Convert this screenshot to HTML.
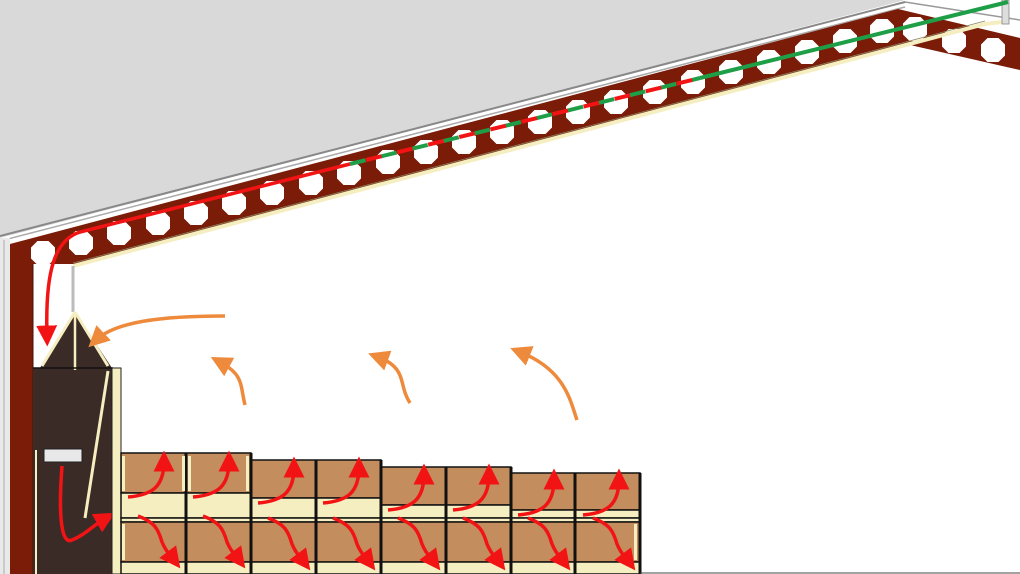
<!DOCTYPE html>
<html><head><meta charset="utf-8"><style>html,body{margin:0;padding:0;background:#fff;width:1020px;height:574px;overflow:hidden}</style></head>
<body>
<svg width="1020" height="574" viewBox="0 0 1020 574" xmlns="http://www.w3.org/2000/svg">
<defs>
<marker id="ar" markerWidth="6" markerHeight="6" refX="3" refY="3" orient="auto" markerUnits="strokeWidth"><path d="M0,0 L6,3 L0,6 z" fill="#f21414"/></marker>
<marker id="ao" markerWidth="6" markerHeight="6" refX="3" refY="3" orient="auto" markerUnits="strokeWidth"><path d="M0,0 L6,3 L0,6 z" fill="#ee8a3c"/></marker>
<g id="up"><path d="M6,0 C30,-2 42,-10 42,-36" fill="none" stroke="#f21414" stroke-width="3.5" marker-end="url(#ar)"/></g>
<g id="dn"><path d="M12,0 C28,6 32,12 36,26 C40,36 45,40 48,44" fill="none" stroke="#f21414" stroke-width="3.5" marker-end="url(#ar)"/></g>
<polygon id="hole" points="-5.5,-12 5.5,-12 12,-5.5 12,5.5 5.5,12 -5.5,12 -12,5.5 -12,-5.5" fill="#fff"/>
</defs>
<!-- gray roof -->
<polygon points="0,0 905,0 0,238" fill="#d9d9d9"/>
<line x1="0" y1="236" x2="905" y2="2" stroke="#888" stroke-width="2"/>
<line x1="0" y1="241" x2="905" y2="7" stroke="#aaa" stroke-width="1.5"/>
<line x1="905" y1="2" x2="1020" y2="20" stroke="#999" stroke-width="1.5"/>
<rect x="0" y="238" width="10" height="336" fill="#e9e9e9"/>
<line x1="4" y1="240" x2="4" y2="574" stroke="#aaa"/>
<!-- beam -->
<polygon points="10,244 898,9 1020,38 1020,70 910,45 75,264 33,264 33,574 10,574" fill="#7a1c08"/>
<line x1="33" y1="264" x2="33" y2="574" stroke="#4a0f05"/>
<g>
<use href="#hole" x="43" y="253"/><use href="#hole" x="81" y="243"/><use href="#hole" x="119" y="233"/><use href="#hole" x="158" y="223"/><use href="#hole" x="196" y="213"/><use href="#hole" x="234" y="203"/><use href="#hole" x="272" y="193"/><use href="#hole" x="311" y="183"/><use href="#hole" x="349" y="173"/><use href="#hole" x="388" y="162"/><use href="#hole" x="426" y="152"/><use href="#hole" x="464" y="142"/><use href="#hole" x="502" y="132"/><use href="#hole" x="540" y="122"/><use href="#hole" x="578" y="112"/><use href="#hole" x="616" y="102"/><use href="#hole" x="655" y="92"/><use href="#hole" x="693" y="82"/><use href="#hole" x="731" y="72"/><use href="#hole" x="769" y="62"/><use href="#hole" x="807" y="52"/><use href="#hole" x="845" y="41"/><use href="#hole" x="882" y="31"/><use href="#hole" x="915" y="29"/><use href="#hole" x="954" y="41"/><use href="#hole" x="993" y="50"/>
</g>
<!-- cream purlin line -->
<polyline points="73,266 985,24 1002,22" fill="none" stroke="#f5eec0" stroke-width="4"/>
<polyline points="73,263 985,21" fill="none" stroke="#8a8560" stroke-width="0.8"/>
<line x1="73" y1="266" x2="73" y2="312" stroke="#bbb" stroke-width="3"/>
<rect x="1002" y="0" width="7" height="24" fill="#ddd" stroke="#888" stroke-width="0.8"/>
<!-- green / red ducts -->
<line x1="700" y1="78" x2="1008" y2="2" stroke="#1f9e48" stroke-width="4"/>
<line x1="350" y1="164" x2="700" y2="78" stroke="#1f9e48" stroke-width="4" stroke-dasharray="16 16"/>
<line x1="366" y1="160" x2="700" y2="78" stroke="#f21414" stroke-width="4" stroke-dasharray="16 16"/>
<path d="M350,164 L80,232 C55,240 45,270 47,336" fill="none" stroke="#f21414" stroke-width="3.5" marker-end="url(#ar)"/>
<!-- machine -->
<rect x="33" y="368" width="80" height="206" fill="#3b2b26"/>
<polygon points="75,312 40,368 112,368" fill="#3b2b26"/>
<line x1="75" y1="312" x2="42" y2="366" stroke="#f5eec0" stroke-width="3"/>
<line x1="75" y1="312" x2="108" y2="366" stroke="#f5eec0" stroke-width="3"/>
<line x1="75" y1="312" x2="75" y2="370" stroke="#f5eec0" stroke-width="2.5"/>
<line x1="108" y1="371" x2="85" y2="518" stroke="#f5eec0" stroke-width="3"/>
<line x1="33" y1="368" x2="113" y2="368" stroke="#111" stroke-width="1.5"/>
<rect x="44" y="449" width="38" height="13" fill="#e8e8e8" stroke="#222"/>
<line x1="36" y1="450" x2="36" y2="574" stroke="#f5eec0" stroke-width="2"/>
<path d="M62,466 C58,520 62,545 72,540 C85,535 92,526 106,518" fill="none" stroke="#f21414" stroke-width="3.5" marker-end="url(#ar)"/>
<!-- pallet side column -->
<rect x="112" y="368" width="9" height="206" fill="#f5eec0" stroke="#222" stroke-width="1"/>
<!-- stacks -->
<g stroke="#111" stroke-width="1.5">
<rect x="121" y="453" width="130" height="40" fill="#c38d5e"/>
<rect x="251" y="460" width="130" height="38" fill="#c38d5e"/>
<rect x="381" y="467" width="130" height="38" fill="#c38d5e"/>
<rect x="511" y="473" width="129" height="37" fill="#c38d5e"/>
<rect x="121" y="493" width="130" height="25" fill="#f5eec0"/>
<rect x="251" y="498" width="130" height="20" fill="#f5eec0"/>
<rect x="381" y="505" width="130" height="13" fill="#f5eec0"/>
<rect x="511" y="510" width="129" height="8" fill="#f5eec0"/>
<rect x="121" y="518" width="519" height="4" fill="#f5eec0"/>
<rect x="121" y="522" width="519" height="40" fill="#c38d5e"/>
<rect x="121" y="562" width="519" height="12" fill="#f5eec0"/>
</g>
<g stroke="#111" stroke-width="3">
<line x1="186" y1="453" x2="186" y2="574"/><line x1="251" y1="453" x2="251" y2="574"/><line x1="316" y1="460" x2="316" y2="574"/><line x1="381" y1="460" x2="381" y2="574"/><line x1="446" y1="467" x2="446" y2="574"/><line x1="511" y1="467" x2="511" y2="574"/><line x1="575" y1="473" x2="575" y2="574"/><line x1="640" y1="473" x2="640" y2="574"/>
</g>
<g fill="#f5eec0">
<rect x="122" y="456" width="3" height="35"/><rect x="182" y="456" width="3" height="35"/><rect x="188" y="456" width="3" height="35"/><rect x="246" y="456" width="3" height="35"/>
<rect x="122" y="524" width="3" height="36"/><rect x="634" y="524" width="3" height="36"/>
</g>
<line x1="640" y1="573" x2="1020" y2="573" stroke="#444" stroke-width="1"/>
<!-- red arrows in boxes -->
<use href="#up" x="122" y="497"/><use href="#up" x="187" y="497"/>
<use href="#up" x="252" y="503"/><use href="#up" x="317" y="503"/>
<use href="#up" x="382" y="510"/><use href="#up" x="447" y="510"/>
<use href="#up" x="512" y="515"/><use href="#up" x="577" y="515"/>
<use href="#dn" x="126" y="516"/><use href="#dn" x="191" y="516"/>
<use href="#dn" x="256" y="518"/><use href="#dn" x="321" y="518"/>
<use href="#dn" x="386" y="518"/><use href="#dn" x="451" y="518"/>
<use href="#dn" x="516" y="518"/><use href="#dn" x="581" y="518"/>
<!-- orange arrows -->
<g fill="none" stroke="#ee8a3c" stroke-width="3.5">
<path d="M225,316 C160,316 115,322 96,340" marker-end="url(#ao)"/>
<path d="M245,405 C240,385 244,375 220,362" marker-end="url(#ao)"/>
<path d="M410,403 C398,385 408,368 378,357" marker-end="url(#ao)"/>
<path d="M577,420 C570,400 565,370 520,352" marker-end="url(#ao)"/>
</g>
</svg>
</body></html>
